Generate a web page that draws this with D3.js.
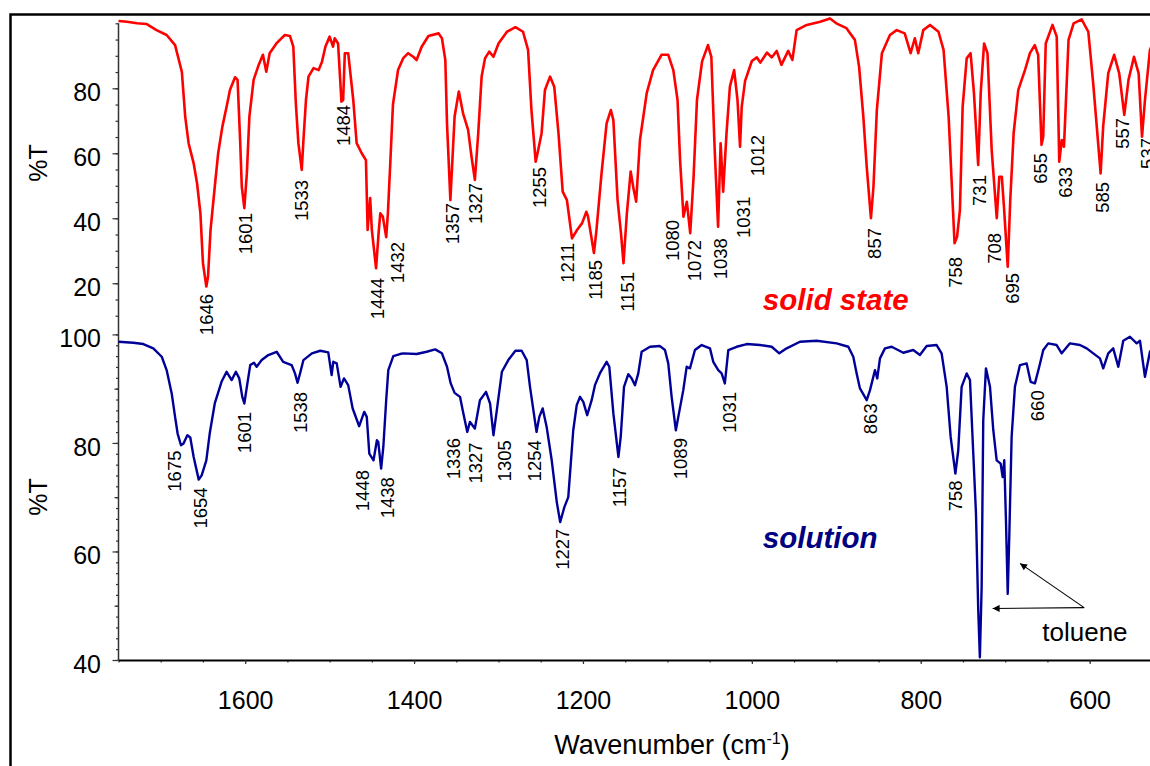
<!DOCTYPE html>
<html>
<head>
<meta charset="utf-8">
<script src="https://cdn.jsdelivr.net/npm/d3@7"></script>
<style>
  body { margin: 0; background: #fff; }
  svg { display: block; font-family: "Liberation Sans", Arial, sans-serif; }
</style>
</head>
<body>
<svg id="chart"></svg>
<script>
// Solid state spectrum, [wavenumber (cm-1), %T]
const solidSpectrum = [
  [1750,100.7],[1740,100.5],[1728,100],[1717,99.8],[1705,97.9],[1693,96.4],[1683,93.3],[1675,85.1],
  [1671,71.3],[1667,63.1],[1661,56.9],[1657,50.8],[1653,41.5],[1650,26.2],[1646,19.0],[1644,22.0],
  [1641,36.4],[1636,49.7],[1632,60.0],[1627,68.2],[1622,74.3],[1618,79.5],[1612,83.4],[1609,82.6],
  [1606,64.1],[1604,49.7],[1601,43.1],[1598,53.8],[1595,71.3],[1590,82.6],[1584,87.2],[1579,90.3],
  [1575,85.1],[1571,90.8],[1563,93.8],[1553,96.4],[1547,96.1],[1543,92.8],[1540,75.4],[1537,63.1],
  [1533,54.9],[1531,64.1],[1528,76.4],[1525,83.6],[1519,86.2],[1513,85.6],[1509,88.2],[1505,92.8],
  [1500,95.9],[1496,92.8],[1494,95.4],[1490,93.8],[1486,75.9],[1484,76.4],[1482,90.8],[1478,90.8],
  [1472,76.4],[1468,63.1],[1462,60.0],[1457,57.9],[1455,36.4],[1452,46.2],[1450,36.4],[1445,24.6],
  [1442,35.4],[1440,41.5],[1437,40.5],[1433,34.2],[1431,41.5],[1428,57.9],[1425,75],[1419,85.6],
  [1413,89.2],[1407,90.8],[1401,89.7],[1397,88.7],[1391,92.8],[1383,96.1],[1371,96.9],[1367,95.4],
  [1363,88.7],[1361,69.2],[1357,45.6],[1355,55.9],[1352,71.3],[1347,79.0],[1342,72.3],[1336,67.2],
  [1332,59.0],[1328,51.8],[1324,66.2],[1320,83.6],[1316,89.2],[1311,91.3],[1306,89.7],[1300,93.8],
  [1290,97.4],[1280,98.8],[1271,97.4],[1265,91.8],[1261,73.3],[1256,57.4],[1253,61.0],[1249,66.2],
  [1245,79.5],[1239,83.6],[1234,80.5],[1229,66.2],[1224,48.2],[1219,45.6],[1213,33.8],[1207,36.4],
  [1201,38.5],[1196,42.0],[1194,40.5],[1187,29.3],[1184,36.4],[1178,53.8],[1172,69.2],[1167,73.3],
  [1164,70.2],[1159,45.6],[1155,35.4],[1152,26.2],[1148,41.5],[1143.5,54.4],[1140,48.9],[1137,45.1],
  [1132.5,64.1],[1124.5,78.5],[1117,85.6],[1107,90.3],[1099,90.3],[1093,85.6],[1088,76.4],[1085,57.9],
  [1081,40.5],[1077,45.1],[1073,35.4],[1069,52.8],[1065,76.4],[1059,88.2],[1052,93.3],[1048,89.7],
  [1044,61.0],[1040,37.4],[1037,63.1],[1034,48.2],[1030,66.2],[1026,80.5],[1021,85.6],[1017,76.4],
  [1014,62.0],[1012,74.3],[1008,82.3],[1000,88.4],[994,89.5],[990,87.9],[982,91.0],[976.5,89.5],
  [970.6,91.5],[965,87.2],[957,91.5],[952,88.7],[947,97.9],[935,99.5],[919,100.5],[907.5,101.5],
  [900,100],[888,98.5],[878,94.9],[873,86.6],[868,71.3],[864,55.9],[859,40.0],[856,49.7],
  [852,73.3],[846,90.8],[836.5,96.4],[828.5,97.9],[819,96.9],[812,90.8],[807,95.4],[803,90.8],
  [797,97.9],[789,99.5],[779,97.4],[773,91.8],[767,71.3],[760,32.3],[757,34.3],[753.6,42.6],
  [750.4,74.3],[745.6,89.2],[741,90.8],[737,78.5],[732,56.4],[729,78.5],[725,93.8],[721,90.8],
  [716,61.0],[710,40.0],[707,52.8],[704,52.8],[701.5,43.6],[697,25.1],[694,45.6],[690,66.2],
  [684.5,79.5],[676.6,85.6],[670.7,90.8],[665,93.3],[661,90.3],[657,62.6],[655,65.1],[652,93.8],
  [644,99.5],[639,95.9],[636,57.4],[633,64.1],[630.4,62.0],[625,94.9],[619,100],[609.5,101.2],
  [601.6,97.4],[595.8,81.5],[587,53.8],[584,68.2],[578,84.6],[571,90.3],[565,84.6],[559,71.8],
  [554,82.6],[547.5,89.7],[542,84.6],[538,65.1],[534.5,76.4],[528.6,91.8],[522,96]
];

// Solution spectrum, [wavenumber (cm-1), %T]
const solutionSpectrum = [
  [1750,98.65],[1732.5,98.46],[1720.6,98.22],[1708.8,97.43],[1698.8,95.88],[1693,93.42],[1687,89.12],
  [1683,84.8],[1680,81.73],[1676,79.57],[1673,79.88],[1668.5,81.42],[1665,80.99],[1661,77.41],
  [1655,73.24],[1651.5,74.03],[1646,76.8],[1642,81.73],[1636,87.27],[1628,91.26],[1622,93.11],
  [1616,91.58],[1611,93.11],[1607,91.89],[1603.4,88.49],[1601,87.27],[1598,90.34],[1594,94.35],
  [1589.6,94.77],[1586.4,94.03],[1580.4,95.27],[1572.6,96.19],[1562.7,96.8],[1555,94.95],[1545,94.35],
  [1541,92.81],[1538,91.08],[1535,92.81],[1531,95.27],[1521,96.51],[1511,96.99],[1501.6,96.69],
  [1497.6,92.5],[1495.7,94.95],[1491.6,94.66],[1487,90.34],[1483,91.89],[1478,90.65],[1472.7,86.35],
  [1465,83.08],[1459,85.72],[1456,84.8],[1453,78.04],[1448,76.8],[1444,80.5],[1442.4,80.18],
  [1439,75.27],[1436.4,79.26],[1433,87.88],[1430.5,93.42],[1424.6,96.01],[1416.7,96.38],[1412.8,96.51],
  [1397,96.38],[1385,96.8],[1375,97.24],[1367,96.51],[1361,94.03],[1356.6,90.97],[1352,89.23],
  [1345.6,88.49],[1342.4,86.04],[1337,82.03],[1333.8,83.87],[1328,82.66],[1322,87.88],[1314.8,89.41],
  [1310,87.27],[1306,81.42],[1302,86.04],[1296,93.11],[1288.4,95.27],[1280,96.99],[1272.6,96.99],
  [1266.6,95.27],[1262.7,90.34],[1255,82.03],[1251.7,84.8],[1247.7,86.35],[1243,82.95],[1237,76.8],
  [1231,69.1],[1227,65.41],[1222,68.18],[1217.4,70.02],[1211.5,82.34],[1207.4,86.96],[1203.5,88.49],
  [1199.6,87.57],[1195,85.11],[1189.7,87.88],[1185.8,90.65],[1180,92.81],[1172,94.95],[1168.8,94.03],
  [1164,85.43],[1158,77.41],[1155.3,81.1],[1151.4,90.34],[1146.3,92.68],[1142.3,91.89],[1138.4,90.65],
  [1134.5,92.81],[1130.5,96.8],[1120.6,97.72],[1108.8,97.85],[1102.9,97.12],[1099,94.66],[1095,88.49],
  [1090,82.34],[1087.1,84.8],[1081.2,89.73],[1077.2,94.03],[1073.3,93.74],[1067.4,97.12],[1059.4,98.04],
  [1049.6,97.43],[1045.7,94.95],[1039.8,93.42],[1035.8,92.81],[1032,90.97],[1027.9,97.12],[1018,97.72],
  [1006,98.22],[990.4,98.04],[976.5,97.72],[967.5,96.51],[958.8,97.43],[943,98.65],[923.3,98.83],
  [899.6,98.35],[885.8,97.72],[879.9,95.88],[875.9,92.81],[872,90.04],[864,87.88],[860.1,89.73],
  [854.2,93.42],[851.5,91.89],[848.3,95.58],[842.4,97.43],[834.5,97.72],[820.7,96.62],[808.9,97.12],
  [801,96.19],[793,97.85],[781.2,98.04],[775.3,96.51],[769.3,90.34],[764.6,81.1],[759,74.35],
  [755.6,78.65],[751.6,90.34],[745.6,92.81],[741.7,91.58],[737.8,78.04],[734.6,66.96],[731.9,49.1],
  [730,40.48],[727.9,53.4],[726,84.19],[722.8,93.74],[718,90.34],[714.1,82.34],[710.1,76.8],
  [705.4,76.19],[703,73.72],[701.1,76.8],[699.1,65.72],[697,52.18],[695.2,62.64],[692.4,81.1],
  [688.5,90.34],[682.5,94.35],[674.6,94.66],[669.9,91.26],[664.8,90.97],[659.7,94.03],[654.9,97.12],
  [649,98.35],[639.1,98.04],[633.1,96.51],[623.3,98.35],[611.5,98.04],[603.5,97.43],[595.7,96.51],
  [587.8,95.58],[583.9,93.74],[578,96.51],[572.1,97.43],[566.1,94.03],[560.2,98.83],[552.3,99.57],
  [544.3,98.35],[540.4,98.83],[534.5,92.18],[528.6,96.8],[522,98]
];

// Peak labels: [text, wavenumber where the label sits, %T at the top of the label]
const solidPeaks = [
  ["1646",1646,16.7],["1601",1600,41.6],["1533",1533,51.8],["1484",1483,74.9],["1444",1443,21.6],
  ["1432",1420,32.7],["1357",1354.5,44.7],["1327",1327,50.9],["1255",1251.5,55.8],["1211",1218,32.4],
  ["1185",1185,27.2],["1151",1147,23.5],["1080",1094,39.5],["1072",1068,33.3],["1038",1037,33.9],
  ["1031",1010,46.6],["1012",993.5,65.6],["857",855,37.0],["758",759,28.1],["731",730.5,53.3],
  ["708",712.5,35.5],["695",691.5,23.2],["655",658,60.1],["633",629,55.8],["585",585,51.2],
  ["557",561,70.9],["537",532,64.7]
];
const solutionPeaks = [
  ["1675",1684,78.6],["1654",1653,71.8],["1601",1601,85.7],["1538",1534.5,89.4],["1448",1460.5,75.0],
  ["1438",1431.5,73.7],["1336",1353,80.9],["1327",1327,80.1],["1305",1293,80.5],["1254",1257.5,80.5],
  ["1227",1224.5,64.2],["1157",1157,75.5],["1089",1084.5,80.9],["1031",1026.5,89.4],["863",859.5,87.3],
  ["758",759,73.1],["660",662,89.7]
];

const xTickValues = [1600, 1400, 1200, 1000, 800, 600];
const solidTickValues = [20, 40, 60, 80];
const solutionTickValues = [40, 60, 80, 100];

// Geometry
const W = 1150, H = 766;
const svg = d3.select("#chart").attr("width", W).attr("height", H);

const x = d3.scaleLinear().domain([1750, 500]).range([118.5, 1174.1]);
const yTop = d3.scaleLinear().domain([5, 100]).range([332, 23.3]);
const yBot = d3.scaleLinear().domain([40, 100]).range([660, 334.4]);

const fontTick = 25;

// Outer frame
svg.append("rect")
  .attr("x", 10.5).attr("y", 14.5)
  .attr("width", 1300).attr("height", 900)
  .attr("fill", "none").attr("stroke", "#000").attr("stroke-width", 2.5);

// Y axes (left), one continuous spine
function yAxisGroup(scale, values, size, labels) {
  const ax = d3.axisLeft(scale).tickValues(values).tickSize(size).tickSizeOuter(0)
    .tickPadding(11.5);
  if (!labels) ax.tickFormat("");
  const g = svg.append("g").attr("transform", "translate(118.5,0)").call(ax);
  g.select(".domain").remove();
  g.selectAll("line").attr("stroke", "#333").attr("stroke-width", 1.2);
  g.selectAll("text").attr("font-size", fontTick).attr("fill", "#000")
    .attr("font-family", "Liberation Sans, Arial, sans-serif").attr("dy", "0.5em");
  return g;
}
yAxisGroup(yTop, d3.range(10, 101, 5), 3, false);
yAxisGroup(yTop, solidTickValues, 6, true);
yAxisGroup(yBot, d3.range(40, 101, 2), 2.5, false);
yAxisGroup(yBot, [50, 70, 90], 4, false);
yAxisGroup(yBot, solutionTickValues, 6, true);

svg.append("line")
  .attr("x1", 118.5).attr("x2", 118.5)
  .attr("y1", yTop(100)).attr("y2", yBot(40))
  .attr("stroke", "#333").attr("stroke-width", 1.5);

// X axis (bottom)
const xMinor = d3.axisBottom(x).tickValues(d3.range(600, 1751, 50)).tickSize(2.5).tickFormat("");
const gxm = svg.append("g").attr("transform", `translate(0,${yBot(40)})`).call(xMinor);
gxm.select(".domain").remove();
gxm.selectAll("line").attr("stroke", "#333").attr("stroke-width", 1.2);

const xAxis = d3.axisBottom(x).tickValues(xTickValues).tickSize(4).tickSizeOuter(0).tickPadding(27)
  .tickFormat(d3.format("d"));
const gx = svg.append("g").attr("transform", `translate(0,${yBot(40)})`).call(xAxis);
gx.select(".domain").attr("stroke", "#000").attr("stroke-width", 1.8);
gx.selectAll("line").attr("stroke", "#333").attr("stroke-width", 1.2);
gx.selectAll("text").attr("font-size", fontTick).attr("fill", "#000")
  .attr("font-family", "Liberation Sans, Arial, sans-serif");

// Axis titles
const title = svg.append("text")
  .attr("x", 672).attr("y", 754)
  .attr("text-anchor", "middle")
  .attr("font-size", 27);
title.append("tspan").text("Wavenumber (cm");
title.append("tspan").text("-1").attr("font-size", 16).attr("dy", -10);
title.append("tspan").text(")").attr("dy", 10);

[163, 497].forEach(cy => {
  svg.append("text")
    .attr("transform", `translate(38,${cy}) rotate(-90)`)
    .attr("text-anchor", "middle").attr("dy", "0.36em")
    .attr("font-size", 25)
    .text("%T");
});

// Spectra
const lineTop = d3.line().x(d => x(d[0])).y(d => yTop(d[1]));
const lineBot = d3.line().x(d => x(d[0])).y(d => yBot(d[1]));

svg.append("path").datum(solidSpectrum)
  .attr("d", lineTop).attr("fill", "none")
  .attr("stroke", "#ff0000").attr("stroke-width", 2.6).attr("stroke-linejoin", "round");

svg.append("path").datum(solutionSpectrum)
  .attr("d", lineBot).attr("fill", "none")
  .attr("stroke", "#000099").attr("stroke-width", 2.4).attr("stroke-linejoin", "round");

// Peak labels
function peakLabels(peaks, y) {
  svg.append("g").selectAll("text")
    .data(peaks)
    .join("text")
    .attr("transform", d => `translate(${x(d[1])},${y(d[2])}) rotate(-90)`)
    .attr("text-anchor", "end")
    .attr("dy", "0.35em")
    .attr("font-size", 18.5)
    .text(d => d[0]);
}
peakLabels(solidPeaks, yTop);
peakLabels(solutionPeaks, yBot);

// Sample labels
svg.append("text")
  .attr("x", x(987)).attr("y", yTop(11.8))
  .attr("font-size", 29.5).attr("font-weight", "bold").attr("font-style", "italic")
  .attr("fill", "#ff0000")
  .text("solid state");

svg.append("text")
  .attr("x", x(987)).attr("y", yBot(60.55))
  .attr("font-size", 29.5).attr("font-weight", "bold").attr("font-style", "italic")
  .attr("fill", "#000080")
  .text("solution");

// Toluene annotation
svg.append("defs").append("marker")
  .attr("id", "arrow")
  .attr("viewBox", "0 0 10 10")
  .attr("refX", 10).attr("refY", 5)
  .attr("markerWidth", 9).attr("markerHeight", 7)
  .attr("markerUnits", "userSpaceOnUse")
  .attr("orient", "auto")
  .append("path").attr("d", "M0,0 L10,5 L0,10 Z").attr("fill", "#000");

const arrowFrom = [606.5, 49.66];
const arrowTo = [[714.9, 49.5], [682.5, 57.8]];
arrowTo.forEach(t => {
  svg.append("line")
    .attr("x1", x(arrowFrom[0])).attr("y1", yBot(arrowFrom[1]))
    .attr("x2", x(t[0])).attr("y2", yBot(t[1]))
    .attr("stroke", "#000").attr("stroke-width", 1.1)
    .attr("marker-end", "url(#arrow)");
});

svg.append("text")
  .attr("x", x(605.6)).attr("y", yBot(43.56))
  .attr("text-anchor", "middle")
  .attr("font-size", 26)
  .text("toluene");
</script>
</body>
</html>
